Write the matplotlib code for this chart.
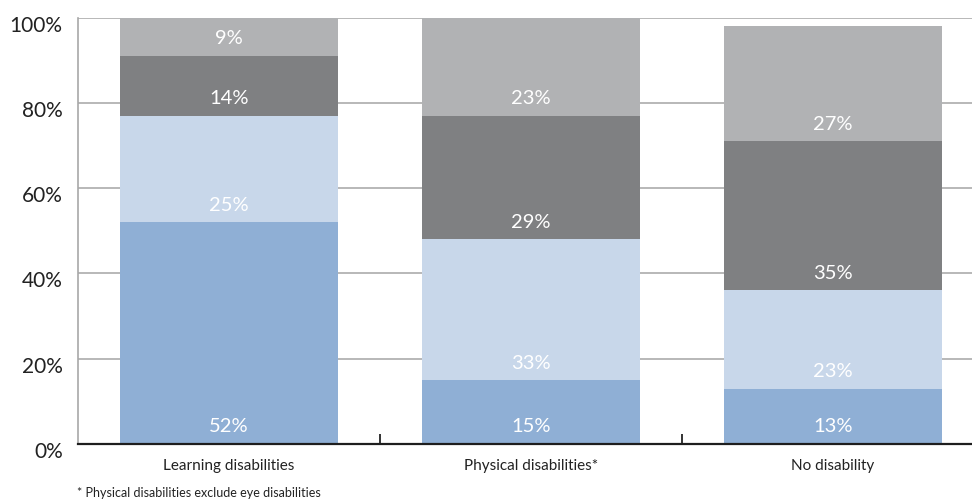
import matplotlib
matplotlib.use("Agg")
import matplotlib.pyplot as plt
import matplotlib.transforms as mtransforms
import numpy as np

plt.rcParams['font.family'] = ['Lato', 'DejaVu Sans']

categories = ["Learning disabilities", "Physical disabilities*", "No disability"]
seg1 = [52, 15, 13]
seg2 = [25, 33, 23]
seg3 = [14, 29, 35]
seg4 = [9, 23, 27]
series = [seg1, seg2, seg3, seg4]
colors = ["#8FAFD5", "#C8D7EA", "#7F8082", "#B1B2B4"]
y_ticks = [0, 20, 40, 60, 80, 100]
y_tick_labels = ["0%", "20%", "40%", "60%", "80%", "100%"]
footnote = "* Physical disabilities exclude eye disabilities"

W, H = 972, 504
fig = plt.figure(figsize=(W / 100, H / 100), dpi=100)
ax_left, ax_bottom, ax_top = 78, 444, 17.5
ax = fig.add_axes([ax_left / W, (H - ax_bottom) / H, 1 - ax_left / W, (ax_bottom - ax_top) / H])

x = np.arange(len(categories))
bar_w = 0.72
ax.set_xlim(-0.5, -0.5 + (W - ax_left) / 302)
ax.set_ylim(0, 100)

# grid lines behind bars
for t in y_ticks[1:]:
    ax.axhline(t, color="#ABABAB", lw=1.2, zorder=0)

bottoms = np.zeros(len(categories))
label_offset = mtransforms.offset_copy(ax.transData, fig=fig, x=0, y=17, units='dots')
for vals, col in zip(series, colors):
    vals = np.array(vals, dtype=float)
    ax.bar(x, vals, bar_w, bottom=bottoms, color=col, zorder=2, linewidth=0)
    for xi, b, v in zip(x, bottoms, vals):
        ax.text(xi, b, f"{int(v)}%", transform=label_offset, ha='center', va='center',
                color='white', fontsize=14.5, zorder=3)
    bottoms += vals

# spines
for s in ['top', 'right']:
    ax.spines[s].set_visible(False)
ax.spines['left'].set_color('#A8A8A8')
ax.spines['left'].set_linewidth(1.2)
ax.spines['bottom'].set_color('#1E1E1E')
ax.spines['bottom'].set_linewidth(1.6)
ax.spines['bottom'].set_zorder(4)

# category boundary ticks
ax.set_xticks([0.5, 1.5])
ax.set_xticklabels([])
ax.tick_params(axis='x', direction='in', length=7, width=1.4, color='#333333')
ax.set_xticks(x, minor=True)
ax.set_xticklabels(categories, minor=True, fontsize=11, color='#222222')
ax.tick_params(axis='x', which='minor', length=0, pad=11)

# y labels
ax.set_yticks(y_ticks)
ax.set_yticklabels(y_tick_labels, fontsize=15, color='#222222')
ax.tick_params(axis='y', length=0, pad=11)
for lbl in ax.get_yticklabels():
    lbl.set_transform(lbl.get_transform() + mtransforms.ScaledTranslation(0, -6 / 100, fig.dpi_scale_trans))

fig.text(77 / W, 1 - 493 / H, footnote, fontsize=9, color='#222222', ha='left', va='center')

fig.savefig("out.png", dpi=100)
